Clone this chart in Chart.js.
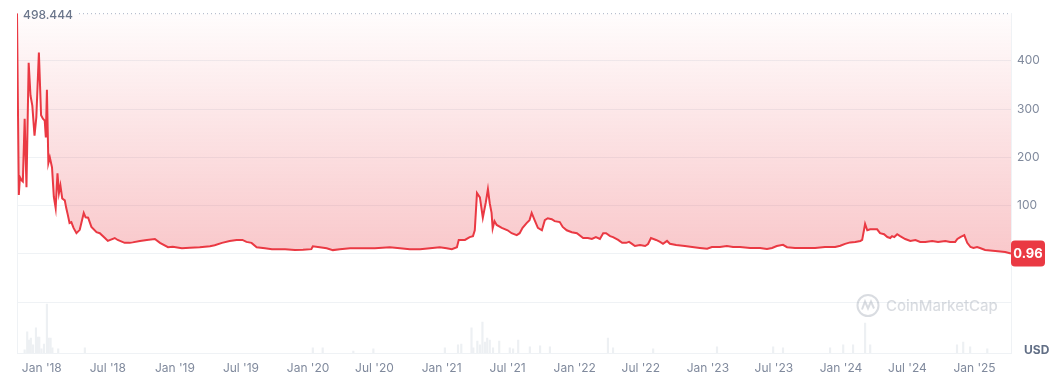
<!DOCTYPE html>
<html>
<head>
<meta charset="utf-8">
<script src="https://cdn.jsdelivr.net/npm/chart.js@4.4.1/dist/chart.umd.min.js"></script>
<style>
  html, body { margin: 0; padding: 0; background: #fff; }
</style>
</head>
<body>
<canvas id="myChart" width="1063" height="382"></canvas>
<script>
// price history (USD)
const dates = [
  '2017-10-25','2017-10-30','2017-11-02','2017-11-06','2017-11-10','2017-11-15','2017-11-20','2017-11-26',
  '2017-12-01','2017-12-06','2017-12-12','2017-12-17','2017-12-24','2017-12-30',
  '2018-01-04','2018-01-09','2018-01-12','2018-01-15','2018-01-19','2018-01-23','2018-01-29','2018-02-03',
  '2018-02-08','2018-02-13','2018-02-17','2018-02-21','2018-02-26','2018-03-05','2018-03-09','2018-03-13',
  '2018-03-18','2018-03-23','2018-03-29','2018-04-06','2018-04-15','2018-04-26','2018-05-01','2018-05-08',
  '2018-05-17','2018-05-31','2018-06-09','2018-06-23','2018-07-01','2018-07-20','2018-07-28','2018-08-16',
  '2018-08-30','2018-09-07','2018-09-27','2018-10-16','2018-11-07','2018-11-21','2018-12-13','2018-12-26',
  '2019-01-20','2019-02-11','2019-03-10','2019-04-07','2019-04-20','2019-05-10','2019-05-31','2019-06-19',
  '2019-07-05','2019-07-16','2019-07-30','2019-08-13','2019-09-05','2019-09-24','2019-10-30','2019-11-26',
  '2019-12-18','2020-01-10','2020-01-14','2020-02-02','2020-02-21','2020-03-09','2020-03-28','2020-04-25',
  '2020-06-05','2020-07-02','2020-08-12','2020-09-09','2020-10-06','2020-11-03','2020-11-30','2020-12-27',
  '2021-01-15','2021-01-29','2021-02-12','2021-02-17','2021-03-06','2021-03-19','2021-03-28','2021-04-02',
  '2021-04-08','2021-04-16','2021-04-24','2021-05-02','2021-05-08','2021-05-13','2021-05-18','2021-05-21',
  '2021-05-26','2021-06-01','2021-06-15','2021-07-01','2021-07-12','2021-07-26','2021-08-03','2021-08-11',
  '2021-08-22','2021-08-30','2021-09-05','2021-09-13','2021-09-22','2021-10-03','2021-10-11','2021-10-19',
  '2021-10-30','2021-11-07','2021-11-21','2021-11-29','2021-12-10','2021-12-24',
  '2022-01-07','2022-01-24','2022-02-06','2022-02-17','2022-02-28','2022-03-11','2022-03-20','2022-03-28',
  '2022-04-08','2022-04-16','2022-04-30','2022-05-11','2022-05-22','2022-05-30','2022-06-07','2022-06-15',
  '2022-06-29','2022-07-13','2022-07-21','2022-07-29','2022-08-12','2022-08-23','2022-08-31','2022-09-11',
  '2022-09-19','2022-10-06','2022-10-30','2022-11-19','2022-12-10','2022-12-30',
  '2023-01-12','2023-02-03','2023-02-22','2023-03-11','2023-03-30','2023-04-27','2023-05-24','2023-06-12',
  '2023-06-26','2023-07-09','2023-07-26','2023-08-06','2023-08-28','2023-09-24','2023-10-22','2023-11-18',
  '2023-12-16','2023-12-30',
  '2024-01-12','2024-01-26','2024-02-09','2024-02-23','2024-02-28','2024-03-07','2024-03-13','2024-03-21',
  '2024-03-29','2024-04-09','2024-04-17','2024-04-28','2024-05-07','2024-05-15','2024-05-20','2024-05-26',
  '2024-06-03','2024-06-11','2024-06-25','2024-07-09','2024-07-23','2024-08-05','2024-08-19','2024-09-07',
  '2024-09-23','2024-10-13','2024-10-26','2024-11-09','2024-11-15','2024-11-23','2024-12-04','2024-12-07',
  '2024-12-12','2024-12-21','2024-12-29',
  '2025-01-08','2025-01-16','2025-01-30','2025-02-27','2025-03-26','2025-04-11'
];
const prices = [
  498.444,122,159,153,150,280,138,396,
  328,307,245,283,417,287,
  280,276,241,340,188,200,179,118,
  95,167,126,142,115,111,95,82,
  64,66,54,43,50,85,76,75,
  56,45,43,33,27,33,29,23,
  23,24,27,29,31,23,14,15,
  12,13,14,16,18,23,27,29,
  29,25,23,14,12,10,10,8,
  8.5,10,16,14,12,8,10,12,
  12,12,14,12,10,10,12,14,
  12,10,14,29,29,35,37,49,
  126,117,75,106,134,105,85,53,
  68,60,54,49,43,39,43,54,
  64,70,85,70,54,49,70,74,
  72,68,66,56,49,45,
  43,33,33,31,35,31,43,43,
  37,35,29,23,23,25,21,16.5,
  18.6,16.5,20.6,33,29,25,21,27,
  21,18.6,16.5,14.4,12.5,11,
  14.4,14.4,16.5,14.4,14.4,12.4,12.4,10.5,
  12.4,16.5,19,14,12.4,12.4,12.4,14.4,
  14.4,17,
  21,24,25,27,29,62,49,51,
  51,51,43,41,35,33,37,35,
  41,37,31,27,29,25,25,27,
  25,27,25,25,31,35,39,33,
  23,14.4,12.4,
  14.4,12.4,8.2,6.2,4.1,0.96
];

// trading volume (USD millions)
const volDates = [
  '2017-11-15','2017-11-22','2017-11-27','2017-12-02','2017-12-08','2017-12-16','2017-12-20','2017-12-25',
  '2017-12-31','2018-01-07','2018-01-15','2018-01-20','2018-01-25','2018-01-30','2018-02-15','2018-04-29',
  '2020-01-14','2020-02-10','2020-05-04','2020-06-28','2021-01-10','2021-02-15','2021-02-24','2021-03-24',
  '2021-03-29','2021-04-09','2021-04-16','2021-04-23','2021-04-30','2021-05-06','2021-05-13','2021-05-22',
  '2021-06-08','2021-07-07','2021-07-16','2021-07-30','2021-08-31','2021-09-28','2021-10-25','2022-04-02',
  '2022-04-16','2022-08-04','2023-01-26','2023-06-29','2023-07-26','2023-12-02','2024-01-07','2024-02-03',
  '2024-03-07','2024-03-21','2024-11-14','2024-12-01','2024-12-20','2025-02-05'
];
const volumes = [
  0.9,6.2,3.8,4.4,2.4,7.4,4.7,4.7,
  1.2,2.6,14.4,4.4,4.4,1.5,1.2,1.5,
  1.5,1.5,0.6,1.2,1.5,2.4,2.6,7.4,
  1.5,3.5,2.4,9.1,3.2,4.4,3.8,1.5,
  3.5,1.5,1.2,3.8,1.8,2.1,1.8,4.4,
  1.5,1.2,1.8,1.8,1.5,1.5,2.4,2.4,
  8.8,2.4,2.4,3.2,1.8,1.2
];

// x axis ticks
const tickDates = [
  '2018-01-01','2018-07-01','2019-01-01','2019-07-01','2020-01-01','2020-07-01','2021-01-01','2021-07-01',
  '2022-01-01','2022-07-01','2023-01-01','2023-07-01','2024-01-01','2024-07-01','2025-01-01'
];
const tickLabels = [
  "Jan '18","Jul '18","Jan '19","Jul '19","Jan '20","Jul '20","Jan '21","Jul '21",
  "Jan '22","Jul '22","Jan '23","Jul '23","Jan '24","Jul '24","Jan '25"
];
const priceTicks = [-100, 0, 100, 200, 300, 400];

const RED = '#ea3943';
const GREY = '#808a9d';
const GRID = '#eff2f5';
const base = Date.UTC(2018, 0, 1);
function dayNum(s) { return (Date.parse(s + 'T00:00:00Z') - base) / 86400000; }

const priceData = dates.map((d, i) => ({ x: dayNum(d), y: prices[i] }));
const volData = volDates.map((d, i) => ({ x: dayNum(d), y: volumes[i] }));
const maxPrice = Math.max(...prices);
const lastPrice = prices[prices.length - 1];

// max label, price badge, USD and watermark
const overlay = {
  id: 'overlay',
  afterDraw(chart) {
    const c = chart.ctx, a = chart.chartArea, ys = chart.scales.y;
    c.save();
    // max line
    const yMax = ys.getPixelForValue(maxPrice);
    c.font = '500 12px Inter';
    c.fillStyle = '#6b768b';
    c.textBaseline = 'middle';
    c.textAlign = 'left';
    const txt = String(maxPrice);
    c.fillText(txt, a.left + 6, yMax + 2.5);
    const tw = c.measureText(txt).width;
    c.strokeStyle = '#a6b0c3';
    c.lineWidth = 1;
    c.setLineDash([1, 3]);
    c.beginPath();
    c.moveTo(a.left + 6 + tw + 6, yMax + 0.5);
    c.lineTo(a.right, yMax + 0.5);
    c.stroke();
    c.setLineDash([]);

    // last price badge
    const yl = ys.getPixelForValue(lastPrice);
    c.fillStyle = RED;
    c.beginPath();
    c.roundRect(a.right, yl - 13, 34, 26, 4);
    c.fill();
    c.fillStyle = '#fff';
    c.font = 'bold 13px Inter';
    c.textAlign = 'center';
    c.fillText(String(lastPrice), a.right + 17, yl + 0.5);

    // currency
    c.fillStyle = '#616e85';
    c.font = 'bold 12px Inter';
    c.textAlign = 'left';
    c.fillText('USD', a.right + 13, a.bottom - 3);

    // watermark
    const cx = 868, cy = 305.5;
    c.strokeStyle = 'rgba(128,138,157,0.3)';
    c.lineWidth = 2;
    c.beginPath();
    c.arc(cx, cy, 10.5, 0, Math.PI * 2);
    c.stroke();
    c.beginPath();
    c.moveTo(cx - 6, cy + 4);
    c.lineTo(cx - 3, cy - 4);
    c.lineTo(cx, cy + 3);
    c.lineTo(cx + 3, cy - 4);
    c.lineTo(cx + 6, cy + 3);
    c.stroke();
    c.fillStyle = 'rgba(128,138,157,0.3)';
    c.font = '500 15px Inter';
    c.fillText('CoinMarketCap', 886, cy + 1);
    c.restore();
  }
};

const ctx = document.getElementById('myChart').getContext('2d');
const myChart = new Chart(ctx, {
  data: {
    datasets: [
      {
        type: 'line',
        data: priceData,
        yAxisID: 'y',
        borderColor: RED,
        borderWidth: 2,
        pointRadius: 0,
        tension: 0,
        fill: 'end',
        backgroundColor: (context) => {
          const ch = context.chart, a = ch.chartArea;
          if (!a) return 'rgba(234,57,67,0.1)';
          const y0 = ch.scales.y.getPixelForValue(0);
          const g = ch.ctx.createLinearGradient(0, a.top, 0, y0);
          g.addColorStop(0, 'rgba(234,57,67,0.01)');
          g.addColorStop(1, 'rgba(234,57,67,0.28)');
          return g;
        },
        order: 1
      },
      {
        type: 'bar',
        data: volData,
        yAxisID: 'yVol',
        backgroundColor: '#edf0f3',
        barThickness: 1.5,
        order: 2
      }
    ]
  },
  options: {
    responsive: false,
    animation: false,
    layout: { padding: { left: 17, top: 13, right: 0, bottom: 0 } },
    plugins: { legend: { display: false }, tooltip: { enabled: false } },
    scales: {
      x: {
        type: 'linear',
        offset: false,
        min: dayNum(dates[0]),
        max: dayNum(dates[dates.length - 1]),
        afterBuildTicks: (s) => { s.ticks = tickDates.map(d => ({ value: dayNum(d) })); },
        ticks: {
          callback: (v, i) => tickLabels[i],
          color: GREY,
          font: { family: 'Inter', size: 12 },
          padding: 8,
          maxRotation: 0,
          autoSkip: false
        },
        grid: { display: false, drawTicks: false, offset: false },
        border: { color: GRID },
        afterFit: (s) => { s.height = 29; }
      },
      y: {
        position: 'right',
        min: -205,
        max: maxPrice,
        afterBuildTicks: (s) => { s.ticks = priceTicks.map(v => ({ value: v })); },
        ticks: {
          callback: (v) => v > 0 ? v : '',
          color: GREY,
          font: { family: 'Inter', size: 12 },
          padding: 6
        },
        grid: { color: GRID, drawTicks: false },
        border: { color: GRID },
        afterFit: (s) => { s.width = 52; }
      },
      yVol: {
        position: 'left',
        min: 0,
        max: 100,
        ticks: { display: false },
        grid: { display: false, drawTicks: false },
        border: { color: GRID },
        afterFit: (s) => { s.width = 0; }
      }
    }
  },
  plugins: [overlay]
});
</script>
</body>
</html>
